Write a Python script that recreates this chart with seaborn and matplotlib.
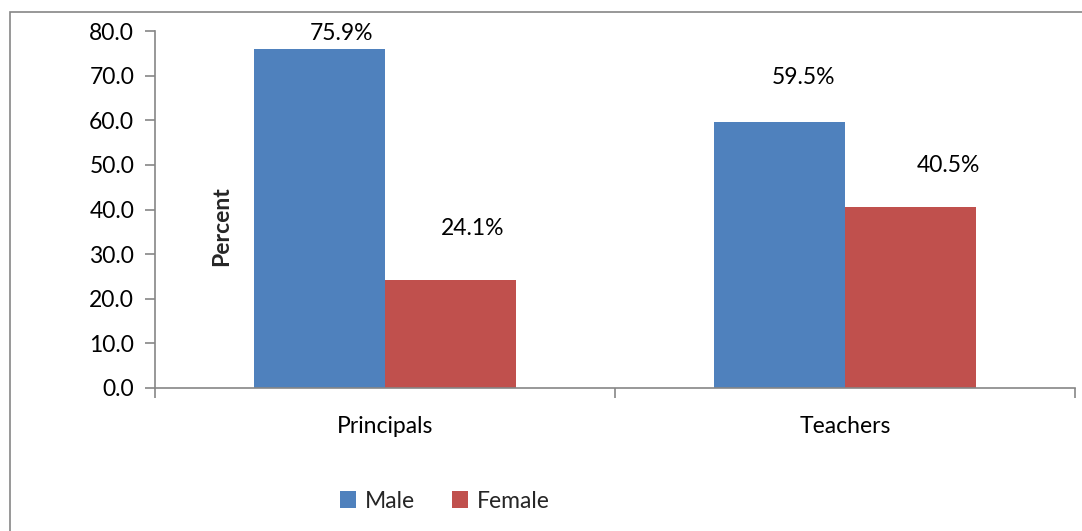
import matplotlib
matplotlib.use("Agg")
import matplotlib.pyplot as plt
import matplotlib.ticker as mticker
from matplotlib.patches import Patch, Rectangle
import pandas as pd
import seaborn as sns

GROUPS = ["Principals", "Teachers"]
SEXES = ["Male", "Female"]
MALE = [75.9, 59.5]
FEMALE = [24.1, 40.5]
Y_TICKS = [0, 10, 20, 30, 40, 50, 60, 70, 80]

COLORS = {"Male": "#4F81BD", "Female": "#C0504D"}
GRAY = "#868686"
FS = 16.5
# label offsets in pixels (dx, dy) from the top centre of each bar, as placed in the source
LABEL_OFFSETS = {
    ("Principals", "Male"): (22, 16),
    ("Principals", "Female"): (22, 52),
    ("Teachers", "Male"): (24, 45),
    ("Teachers", "Female"): (38, 42),
}

sns.set_theme(style="white")
plt.rcParams["font.family"] = ["Lato", "DejaVu Sans"]

df = pd.DataFrame({
    "group": GROUPS * 2,
    "sex": ["Male"] * len(GROUPS) + ["Female"] * len(GROUPS),
    "value": MALE + FEMALE,
})

fig = plt.figure(figsize=(10.82, 5.31), dpi=100)
ax = fig.add_axes([155 / 1082, 1 - 388 / 531, 920 / 1082, 357 / 531])

sns.barplot(
    data=df, x="group", y="value", hue="sex", order=GROUPS, hue_order=SEXES,
    palette=COLORS, width=0.57, gap=0, saturation=1, legend=False, ax=ax,
    errorbar=None, linewidth=0,
)

ax.set_xlim(-0.5, 1.5)
ax.set_ylim(0, 80)
ax.set_yticks(Y_TICKS)
ax.yaxis.set_major_formatter(mticker.FormatStrFormatter("%.1f"))
ax.set_xlabel("")
ax.set_ylabel("")

for side in ["top", "right"]:
    ax.spines[side].set_visible(False)
for side in ["left", "bottom"]:
    ax.spines[side].set_color(GRAY)
    ax.spines[side].set_linewidth(1.2)

ax.tick_params(axis="y", which="major", left=True, length=7, width=1.2, color=GRAY,
               labelsize=FS, pad=8, labelcolor="black")
ax.tick_params(axis="x", which="major", bottom=False, labelsize=FS, pad=14, labelcolor="black")
ax.set_xticks([-0.5, 0.5, 1.5], minor=True)
ax.tick_params(axis="x", which="minor", bottom=True, length=7, width=1.2, color=GRAY)

for container, sex in zip(ax.containers, SEXES):
    for bar, group in zip(container, GROUPS):
        dx, dy = LABEL_OFFSETS[(group, sex)]
        ax.annotate(
            f"{bar.get_height():.1f}%",
            (bar.get_x() + bar.get_width() / 2, bar.get_height()),
            xytext=(dx * 0.72, dy * 0.72), textcoords="offset points",
            ha="center", va="center", fontsize=FS, color="black",
        )

fig.text(222 / 1082, 1 - 226 / 531, "Percent", rotation=90, ha="center", va="center",
         fontsize=FS, fontweight="bold")

handles = [Patch(facecolor=COLORS[s], edgecolor="none", label=s) for s in SEXES]
fig.legend(handles=handles, loc="center", bbox_to_anchor=(445 / 1082, 1 - 501 / 531),
           ncol=2, frameon=False, fontsize=FS, handlelength=0.7, handleheight=0.7,
           handletextpad=0.4, columnspacing=1.6)

fig.patches.append(Rectangle((10 / 1082, -0.05), 1.1, 0.05 + (1 - 12 / 531),
                             transform=fig.transFigure, fill=False,
                             edgecolor=GRAY, linewidth=1.2))

fig.savefig("out.png", dpi=100)
